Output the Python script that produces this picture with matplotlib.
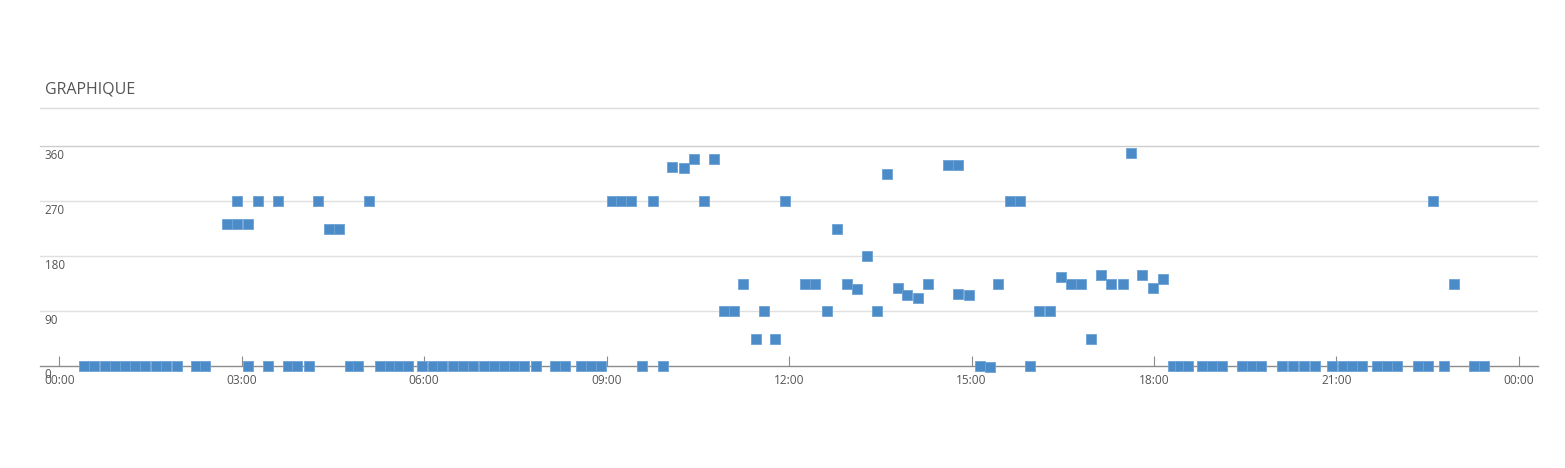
"""
Нарисовать точечный график направления (0-360) по времени суток
и сохранить его в out.png.
"""

import matplotlib

matplotlib.use("Agg")

import matplotlib.pyplot as plt
from matplotlib.lines import Line2D

OUTPUT_PATH = "out.png"

TITLE = "GRAPHIQUE"

TIMES = [
    "00:24", "00:34", "00:45", "00:55", "01:05", "01:15", "01:25", "01:35",
    "01:45", "01:56", "02:15", "02:24", "02:45", "02:55", "02:55", "03:06",
    "03:06", "03:16", "03:26", "03:36", "03:46", "03:55", "04:06", "04:15",
    "04:26", "04:36", "04:47", "04:55", "05:06", "05:16", "05:26", "05:35",
    "05:44", "05:58", "06:09", "06:18", "06:28", "06:38", "06:48", "06:59",
    "07:09", "07:19", "07:29", "07:38", "07:50", "08:09", "08:19", "08:35",
    "08:45", "08:54", "09:05", "09:14", "09:24", "09:35", "09:46", "09:56",
    "10:04", "10:16", "10:26", "10:36", "10:46", "10:56", "11:06", "11:15",
    "11:27", "11:35", "11:46", "11:56", "12:16", "12:26", "12:37", "12:47",
    "12:57", "13:07", "13:17", "13:27", "13:37", "13:47", "13:56", "14:07",
    "14:17", "14:37", "14:47", "14:47", "14:57", "15:08", "15:18", "15:26",
    "15:38", "15:48", "15:58", "16:07", "16:17", "16:28", "16:38", "16:48",
    "16:58", "17:08", "17:18", "17:29", "17:37", "17:48", "17:59", "18:09",
    "18:19", "18:26", "18:34", "18:47", "18:57", "19:07", "19:27", "19:37",
    "19:46", "20:06", "20:17", "20:28", "20:39", "20:56", "21:06", "21:15",
    "21:25", "21:40", "21:50", "22:00", "22:20", "22:30", "22:35", "22:46",
    "22:56", "23:16", "23:26",
]

VALUES = [
    0, 0, 0, 0, 0, 0, 0, 0,
    0, 0, 0, 0, 232, 232, 270, 232,
    0, 270, 0, 270, 0, 0, 0, 270,
    225, 225, 0, 0, 270, 0, 0, 0,
    0, 0, 0, 0, 0, 0, 0, 0,
    0, 0, 0, 0, 0, 0, 0, 0,
    0, 0, 270, 270, 270, 0, 270, 0,
    326, 324, 340, 270, 339, 90, 90, 135,
    45, 90, 45, 270, 135, 135, 90, 225,
    135, 126, 180, 90, 314, 128, 117, 111,
    135, 330, 330, 118, 116, 0, -2, 135,
    270, 270, 0, 90, 90, 146, 135, 135,
    45, 149, 135, 135, 349, 149, 128, 142,
    0, 0, 0, 0, 0, 0, 0, 0,
    0, 0, 0, 0, 0, 0, 0, 0,
    0, 0, 0, 0, 0, 0, 270, 0,
    135, 0, 0,
]

X_TICK_LABELS = ["00:00", "03:00", "06:00", "09:00", "12:00",
                 "15:00", "18:00", "21:00", "00:00"]
Y_TICKS = [0, 90, 180, 270, 360]

MARKER_COLOR = "#4a8bc8"
TEXT_COLOR = "#555555"
GRID_COLOR = "#e0e0e0"
AXIS_COLOR = "#8c8c8c"
FONT = ["Open Sans", "DejaVu Sans"]


def to_minutes(hhmm: str) -> int:
    h, m = hhmm.split(":")
    return int(h) * 60 + int(m)


def main() -> None:
    plt.rcParams["font.family"] = FONT

    fig = plt.figure(figsize=(15.65, 4.68), dpi=100)
    # область данных: 0..360 по вертикали, сетка тянется на всю ширину
    ax = fig.add_axes([40 / 1565, 102 / 468, 1498 / 1565, 219.7 / 468])

    minutes = [to_minutes(t) for t in TIMES]
    ax.scatter(minutes, VALUES, marker="s", s=60, color=MARKER_COLOR,
               edgecolors="#6da3d6", linewidths=0.6, zorder=3, clip_on=False)

    ax.set_xlim(-19.0, 1458.8)
    ax.set_ylim(0, 360)

    for spine in ax.spines.values():
        spine.set_visible(False)

    for y in Y_TICKS[1:-1]:
        ax.axhline(y, color=GRID_COLOR, lw=1, zorder=1)
    ax.axhline(360, color="#cccccc", lw=1, zorder=1, clip_on=False)
    ax.axhline(0, color=AXIS_COLOR, lw=1, zorder=2, clip_on=False)

    # ярлыки оси Y: слева, чуть ниже линии сетки
    for y in Y_TICKS:
        ax.text(-14.5, y - 4, str(y), ha="left", va="top", fontsize=8.4,
                color=TEXT_COLOR, zorder=4)

    x_ticks = [i * 180 for i in range(len(X_TICK_LABELS))]
    ax.set_xticks(x_ticks)
    ax.set_xticklabels(X_TICK_LABELS, fontsize=8.6, color=TEXT_COLOR)
    ax.tick_params(axis="x", direction="in", length=7, color=AXIS_COLOR,
                   pad=6)
    ax.set_yticks([])

    fig.text(45 / 1565, 1 - 89 / 468, TITLE, ha="left", va="center",
             fontsize=11.5, color=TEXT_COLOR)
    fig.add_artist(Line2D([40 / 1565, 1538 / 1565], [1 - 108 / 468] * 2,
                          color="#dddddd", lw=1))

    fig.savefig(OUTPUT_PATH, dpi=100)
    plt.close(fig)


if __name__ == "__main__":
    main()
